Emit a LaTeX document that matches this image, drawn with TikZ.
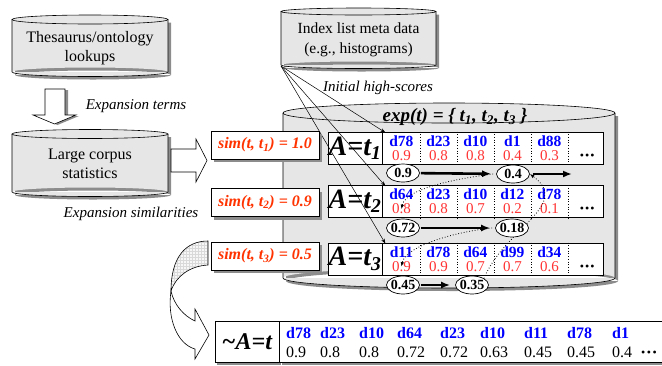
\documentclass[tikz,border=0pt]{standalone}
\usepackage{fontspec}
\setmainfont{Liberation Serif}
\usetikzlibrary{positioning,arrows.meta,shapes.geometric,shadows,patterns}
\definecolor{cylgray}{HTML}{E6E6E6}
\definecolor{shadowgray}{HTML}{8C8C8C}
\definecolor{idblue}{HTML}{0000FF}
\definecolor{scorered}{HTML}{FF3333}
\definecolor{simred}{HTML}{FF3300}
\pgfdeclarelayer{front}
\pgfsetlayers{main,front}

\begin{document}
\begin{tikzpicture}[x=1pt, y=-1pt,
  every node/.style={font=\fontsize{15}{18}\selectfont},
  cyl/.style={fill=cylgray, draw=black, line width=0.6pt},
  shd/.style={fill=shadowgray, draw=none},
  cyltxt/.style={align=center, font=\fontsize{16}{19.5}\selectfont},
  note/.style={font=\fontsize{15}{18}\selectfont\itshape},
  hollow/.style={fill=white, draw=black, line width=0.6pt},
  simbox/.style={rectangle, draw, fill=white, line width=0.6pt, minimum width=108,
                 minimum height=28, inner sep=0pt, text=simred,
                 font=\fontsize{16}{18}\selectfont\bfseries\itshape,
                 drop shadow={shadow xshift=3pt, shadow yshift=-3pt, fill=shadowgray, opacity=1}},
  tbox/.style={rectangle, draw, fill=white, line width=0.8pt, minimum width=54,
               minimum height=32, inner sep=0pt, font=\fontsize{28}{28}\selectfont\bfseries\itshape},
  dbox/.style={rectangle, draw, fill=white, line width=0.8pt, minimum width=221,
               minimum height=32, inner sep=0pt},
  docid/.style={text=idblue, inner sep=0pt, font=\fontsize{15.5}{16}\selectfont\bfseries},
  score/.style={text=scorered, inner sep=0pt, font=\fontsize{15}{16}\selectfont},
  more/.style={inner sep=0pt, font=\fontsize{12}{12}\selectfont},
  hs/.style={ellipse, draw, fill=white, line width=0.7pt, inner sep=-1pt, minimum width=33,
             minimum height=18, font=\fontsize{14}{14}\selectfont\bfseries},
  resl/.style={rectangle, draw, fill=white, line width=0.8pt, minimum width=64, minimum height=41,
               inner sep=0pt, font=\fontsize{24}{24}\selectfont\bfseries\itshape,
               drop shadow={shadow xshift=2pt, shadow yshift=-2.5pt, fill=shadowgray, opacity=1}},
  resd/.style={rectangle, draw, fill=white, line width=0.8pt, minimum width=385, minimum height=41,
               inner sep=0pt, drop shadow={shadow xshift=2pt, shadow yshift=-2.5pt, fill=shadowgray, opacity=1}},
  rid/.style={text=idblue, inner sep=0pt, anchor=west, font=\fontsize{16}{16}\selectfont\bfseries},
  rsc/.style={inner sep=0pt, anchor=west, font=\fontsize{16}{16}\selectfont},
  thk/.style={-{Latex[length=9pt,width=7pt]}, line width=2.6pt, shorten >=5pt, shorten <=1pt},
  dotarr/.style={-{Latex[length=4.5pt,width=3.5pt]}, dotted, line width=0.8pt},
  fanarr/.style={-{Stealth[length=5pt,width=3.5pt]}, line width=0.5pt}
]
  \useasboundingbox (0,0) rectangle (662,365);

  % cylinders: centre x / top y / bottom y / x radius / y radius
  \foreach \cx/\tp/\bt/\rx/\ry in {90/19.5/72/78/4.5, 90/134/192/78/4.5,
                                   358.5/11.5/65/77.5/3.5, 449/113/278/166/10} {
    \fill[shd] (\cx-\rx+3,\tp+3) rectangle (\cx+\rx+3,\bt+3)
               (\cx+3,\bt+3) ellipse[x radius=\rx, y radius=\ry];
    \fill[cylgray] (\cx-\rx,\tp) rectangle (\cx+\rx,\bt)
                   (\cx,\bt) ellipse[x radius=\rx, y radius=\ry];
    \draw[line width=0.6pt] (\cx-\rx,\tp) -- (\cx-\rx,\bt)
      arc[start angle=180, end angle=0, x radius=\rx, y radius=\ry] -- (\cx+\rx,\tp);
    \draw[cyl] (\cx,\tp) ellipse[x radius=\rx, y radius=\ry];
  }

  \node[cyltxt] (thes) at (90,48) {Thesaurus/ontology\\lookups};
  \node[cyltxt] (corpus) at (90,164) {Large corpus\\statistics};
  \node[cyltxt, font=\fontsize{15.5}{19.5}\selectfont] (meta) at (358.5,40)
    {Index list meta data\\(e.g., histograms)};
  \node[font=\fontsize{19}{19}\selectfont\bfseries\itshape] (expt) at (455,117)
    {exp(t) = \{ t\textsubscript{1}, t\textsubscript{2}, t\textsubscript{3} \}};

  \node[note] (eterm) at (136,106) {Expansion terms};
  \node[note] (esim) at (131,214) {Expansion similarities};
  \node[note] (ihs) at (378,88) {Initial high-scores};

  % block arrows
  \draw[hollow, drop shadow={shadow xshift=3pt, shadow yshift=-1pt, fill=shadowgray, opacity=1}]
    (45,89) -- (65,89) -- (65,115) -- (76,115) -- (54.5,124) -- (33,115) -- (45,115) -- cycle;
  \draw[hollow] (171,149) -- (196,149) -- (196,139) -- (207,160.5) -- (196,182)
    -- (196,172) -- (171,172) -- cycle;

  % index lists
  \foreach \r/\y in {1/148, 2/201.5, 3/259} {
    \node[tbox] (a\r) at (355,\y) {A=t\textsubscript{\r}};
    \node[dbox, right=0pt of a\r] (r\r) {};
    \foreach \x in {38,75,112,149,186}
      \draw[dotted, line width=0.7pt] ([xshift=\x]r\r.north west) -- ([xshift=\x]r\r.south west);
    \node[more] (m\r) at ([xshift=-17, yshift=8]r\r.south east) {•\kern1pt•\kern1pt•};
  }
  \foreach \r/\cells in {1/{d78/0.9,d23/0.8,d10/0.8,d1/0.4,d88/0.3},
                         2/{d64/0.8,d23/0.8,d10/0.7,d12/0.2,d78/0.1},
                         3/{d11/0.9,d78/0.9,d64/0.7,d99/0.7,d34/0.6}}
    \foreach \d/\s [count=\c] in \cells {
      \node[docid] (id\r\c) at ([xshift=37*\c-18, yshift=-9.5]r\r.north west) {\d};
      \node[score] (sc\r\c) at ([xshift=37*\c-18, yshift=-24]r\r.north west) {\s};
    }

  % high-scores
  \begin{pgfonlayer}{front}
    \node[hs] (h11) at (403,173) {0.9};
    \node[hs] (h12) at (513,174) {0.4};
    \node[hs] (h21) at (403,228) {0.72};
    \node[hs] (h22) at (512,228) {0.18};
    \node[hs] (h31) at (403,285) {0.45};
    \node[hs] (h32) at (472,285) {0.35};
  \end{pgfonlayer}
  \coordinate (h1end) at (572,174);
  \draw[thk] (h11) -- (h12);
  \draw[thk, shorten >=0pt, shorten <=3pt] (h12) -- (h1end);
  \draw[thk] (h21) -- (h22);
  \draw[thk] (h31) -- (h32);
  \draw[dotarr] ([xshift=-3]h12.west) .. controls (460,178) and (406,188) .. (sc21.center);
  \draw[dotarr] ([xshift=-3]h22.west) .. controls (460,231) and (406,245) .. (sc31.center);
  \draw[dotarr] (h32.north east) .. controls (505,228) and (572,205) .. (h12.east);

  % initial high-scores from the meta data
  \coordinate (fan) at (281,66);
  \foreach \r in {1,2,3}
    \draw[fanarr] (fan) -- ([xshift=3, yshift=-1]r\r.north west);

  % similarities
  \draw[line width=0.6pt, preaction={fill=gray!6}, pattern=grid, pattern color=gray!30]
    (208,241) .. controls (185,241) and (171,258) .. (171,291)
    .. controls (176,276) and (190,266) .. (208,265) -- cycle;
  \draw[hollow] (171,291) .. controls (174,305) and (184,316) .. (195,321) -- (195,309)
    -- (209,335) -- (195,359) -- (195,349) .. controls (177,344) and (167,318) .. (171,291) -- cycle;
  \node[simbox] (s1) at (265,145) {sim(t, t\textsubscript{1}) = 1.0};
  \node[simbox] (s2) at (265,202.5) {sim(t, t\textsubscript{2}) = 0.9};
  \node[simbox] (s3) at (265,256) {sim(t, t\textsubscript{3}) = 0.5};

  % merged list
  \node[resl] (rl) at (247,341.5) {\textasciitilde A=t};
  \node[resd, right=0pt of rl] (rd) {};
  \foreach \d/\s/\x [count=\c] in {d78/0.9/286, d23/0.8/320, d10/0.8/359, d64/0.72/397,
      d23/0.72/440, d10/0.63/480, d11/0.45/524, d78/0.45/567, d1/0.4/612} {
    \node[rid] (rid\c) at (\x,333) {\d};
    \node[rsc] (rsc\c) at (\x,352) {\s};
  }
  \node[more] (rm) at (649,354) {•\kern1.5pt•\kern1.5pt•};
\end{tikzpicture}
\end{document}
